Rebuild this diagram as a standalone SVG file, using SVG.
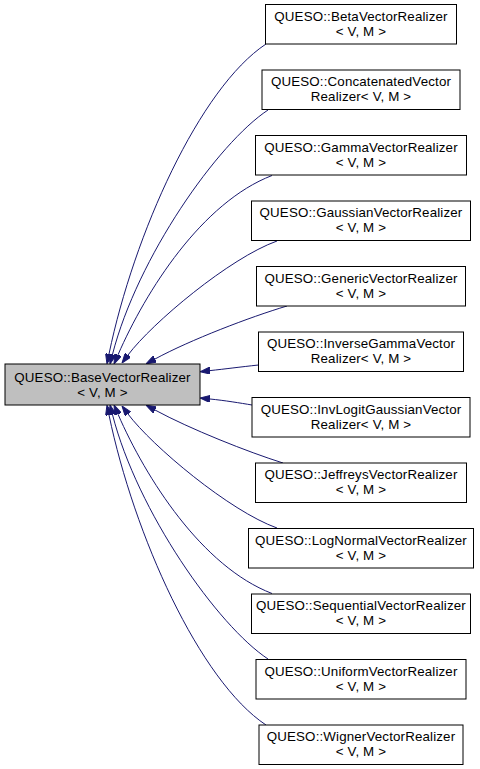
<svg xmlns="http://www.w3.org/2000/svg" width="480" height="769" viewBox="0 0 480 769">
<style>
.node rect{fill:#ffffff;stroke:#000000;stroke-width:1}
#base rect{fill:#bfbfbf}
text{font-family:"Liberation Sans",Arial,Helvetica,sans-serif;font-size:13.33px;letter-spacing:0.15px;fill:#000000;text-anchor:middle}
.edge{fill:none;stroke:#191970;stroke-width:1;marker-end:url(#arr)}
</style>
<defs>
<marker id="arr" viewBox="0 0 10 7" refX="0" refY="3.5" markerUnits="userSpaceOnUse" markerWidth="10" markerHeight="7" orient="auto">
<path d="M0,0 L10,3.5 L0,7 z" fill="#191970" stroke="#191970" stroke-width="1"/>
</marker>
</defs>
<rect x="0" y="0" width="480" height="769" fill="#ffffff"/>
<g id="connectors">
<path class="edge" d="M266,44 C199.6,88 134,234 109,354"/>
<path class="edge" d="M268,110 C217.6,143.4 137.5,257.3 112.5,354.3"/>
<path class="edge" d="M272,175.5 C201.9,202.5 146,290.6 118,354.8"/>
<path class="edge" d="M277,241 C229.5,258 152,323 128,355"/>
<path class="edge" d="M287,306 C250,317 190,340 155,359"/>
<path class="edge" d="M258.5,365 C240,367 225,369 210,370.6"/>
<path class="edge" d="M252,405 C240,403 225,400.5 210,399"/>
<path class="edge" d="M283,463 C248,452 190,429 155,410"/>
<path class="edge" d="M277,528 C229.5,511 152,446 128,414"/>
<path class="edge" d="M272,593.5 C201.9,566.5 146,478.4 118,414.2"/>
<path class="edge" d="M268,659 C217.6,625.6 137.5,511.7 112.5,414.7"/>
<path class="edge" d="M266,725 C199.6,681 134,535 109,415"/>
</g>
<g id="base" class="node">
<rect x="5" y="364" width="195" height="41"/>
<text x="102.5" y="381.5">QUESO::BaseVectorRealizer</text>
<text x="102.5" y="396.5">&lt; V, M &gt;</text>
</g>
<g id="beta" class="node">
<rect x="265.5" y="4.5" width="191" height="39.5"/>
<text x="361" y="20.5">QUESO::BetaVectorRealizer</text>
<text x="361" y="35.5">&lt; V, M &gt;</text>
</g>
<g id="concatenated" class="node">
<rect x="262" y="70" width="198" height="39.5"/>
<text x="361" y="86">QUESO::ConcatenatedVector</text>
<text x="361" y="101">Realizer&lt; V, M &gt;</text>
</g>
<g id="gamma" class="node">
<rect x="255.5" y="135.5" width="211" height="39.5"/>
<text x="361" y="151.5">QUESO::GammaVectorRealizer</text>
<text x="361" y="166.5">&lt; V, M &gt;</text>
</g>
<g id="gaussian" class="node">
<rect x="251.5" y="201" width="219" height="39.5"/>
<text x="361" y="217">QUESO::GaussianVectorRealizer</text>
<text x="361" y="232">&lt; V, M &gt;</text>
</g>
<g id="generic" class="node">
<rect x="256.5" y="266.5" width="209" height="39.5"/>
<text x="361" y="282.5">QUESO::GenericVectorRealizer</text>
<text x="361" y="297.5">&lt; V, M &gt;</text>
</g>
<g id="inversegamma" class="node">
<rect x="258.5" y="332" width="205" height="39.5"/>
<text x="361" y="348">QUESO::InverseGammaVector</text>
<text x="361" y="363">Realizer&lt; V, M &gt;</text>
</g>
<g id="invlogitgaussian" class="node">
<rect x="252" y="397.5" width="218" height="39.5"/>
<text x="361" y="413.5">QUESO::InvLogitGaussianVector</text>
<text x="361" y="428.5">Realizer&lt; V, M &gt;</text>
</g>
<g id="jeffreys" class="node">
<rect x="255.5" y="463" width="211" height="39.5"/>
<text x="361" y="479">QUESO::JeffreysVectorRealizer</text>
<text x="361" y="494">&lt; V, M &gt;</text>
</g>
<g id="lognormal" class="node">
<rect x="248.5" y="528.5" width="225" height="39.5"/>
<text x="361" y="544.5">QUESO::LogNormalVectorRealizer</text>
<text x="361" y="559.5">&lt; V, M &gt;</text>
</g>
<g id="sequential" class="node">
<rect x="251.5" y="594" width="219" height="39.5"/>
<text x="361" y="610">QUESO::SequentialVectorRealizer</text>
<text x="361" y="625">&lt; V, M &gt;</text>
</g>
<g id="uniform" class="node">
<rect x="256" y="659.5" width="210" height="39.5"/>
<text x="361" y="675.5">QUESO::UniformVectorRealizer</text>
<text x="361" y="690.5">&lt; V, M &gt;</text>
</g>
<g id="wigner" class="node">
<rect x="259" y="725" width="204" height="39.5"/>
<text x="361" y="741">QUESO::WignerVectorRealizer</text>
<text x="361" y="756">&lt; V, M &gt;</text>
</g>
</svg>
